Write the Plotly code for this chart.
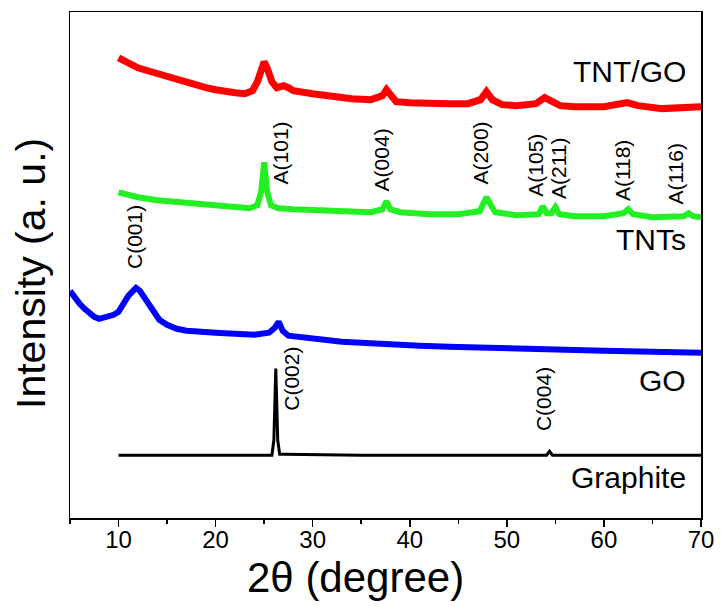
import plotly.graph_objects as go

# ---------------- data (intensity in arbitrary units) -------------
tntgo_x = [10.0, 11, 12, 13, 14, 15, 16, 17, 18, 19, 20, 21, 22, 23, 23.8, 24.3, 24.7, 25.0, 25.3,
           25.8, 26.3, 27.0, 27.5, 28, 30, 32, 34, 36, 37.2, 37.6, 38.0, 38.6, 40, 42, 44, 46, 47.3,
           47.9, 48.5, 49.5, 51, 53, 53.9, 54.5, 55.5, 57, 60, 62.4, 63.5, 66, 68, 70]
tntgo_y = [462, 456, 452, 449, 446, 443, 440, 437, 434, 432, 430, 428, 427, 426, 429, 438, 451, 458, 452,
           438, 432, 434, 432, 429, 426, 423, 421, 420, 424, 430, 424, 418, 417, 416, 416, 416, 420,
           428, 420, 415, 414, 416, 422, 419, 414, 413, 413, 417, 414, 411, 412, 413]

tnts_x = [10, 11, 12, 14, 16, 18, 20, 22, 23.5, 24.3, 24.7, 25.0, 25.3, 25.7, 26.5, 28, 30, 32, 34, 36,
          37.2, 37.6, 38.0, 39, 42, 45, 47.2, 47.6, 47.9, 48.3, 48.8, 51, 53.3, 53.7, 54.1, 54.6, 55.0,
          55.4, 57, 60, 62.0, 62.5, 63, 65, 68.2, 68.7, 69.2, 70]
tnts_y = [327, 324, 322, 319, 317, 315, 313, 311, 311, 314, 328, 357, 328, 314, 311, 310, 309, 308, 308, 307,
          310, 318, 310, 307, 305, 305, 308, 316, 322, 315, 307, 304, 305, 313, 306, 306, 312,
          305, 303, 303, 306, 310, 305, 302, 303, 306, 303, 302]

go_x = [5.0, 5.5, 6, 6.5, 7, 7.5, 8, 8.5, 9, 9.5, 10, 10.5, 11, 11.5, 11.8, 12.2, 12.7, 13.2, 13.7, 14.2,
        15, 16, 17, 18, 20, 22, 24, 25.5, 26.1, 26.5, 26.9, 27.5, 29, 31, 33, 35, 38, 41, 44, 47, 50,
        55, 60, 65, 70]
go_y = [228, 221, 215, 210, 206, 202, 200, 201, 202, 204, 207, 215, 223, 228, 231, 228, 221, 213, 205, 199,
        194, 190, 188, 187, 186, 185, 184, 186, 191, 197, 188, 183, 181, 179, 177, 176, 174, 173, 172, 171, 170,
        169, 168, 167, 166]

graphite_x = [10, 20, 25.8, 26.0, 26.2, 26.4, 26.6, 27, 35, 54.1, 54.4, 54.7, 70]
graphite_y = [63, 63, 63, 78, 150, 78, 64, 64, 63, 63, 67, 63, 63]

# peak labels: text, 2theta position of label, label base height
peak_labels = ["C(001)", "A(101)", "A(004)", "A(200)", "A(105)", "A(211)", "A(118)", "A(116)", "C(002)", "C(004)"]
peak_label_x = [11.7, 26.7, 37.1, 47.3, 53.0, 55.3, 61.9, 67.4, 27.8, 53.8]
peak_label_y = [248, 333, 326, 333, 321, 318, 316, 313, 106, 85]

series_names = ["TNT/GO", "TNTs", "GO", "Graphite"]
series_label_y = [448, 280, 138, 41]

x_ticks = [10, 20, 30, 40, 50, 60, 70]

FONT = "Liberation Sans, Arial, sans-serif"

fig = go.Figure()
fig.add_trace(go.Scatter(x=tntgo_x, y=tntgo_y, mode="lines", line=dict(color="#FF0000", width=7), name="TNT/GO"))
fig.add_trace(go.Scatter(x=tnts_x, y=tnts_y, mode="lines", line=dict(color="#22F022", width=6), name="TNTs"))
fig.add_trace(go.Scatter(x=go_x, y=go_y, mode="lines", line=dict(color="#0000FF", width=6), name="GO"))
fig.add_trace(go.Scatter(x=graphite_x, y=graphite_y, mode="lines", line=dict(color="#000000", width=3), name="Graphite"))

annotations = []
for t, x, y in zip(peak_labels, peak_label_x, peak_label_y):
    annotations.append(dict(x=x, y=y, xref="x", yref="y", text=t, showarrow=False, textangle=-90,
                            xanchor="center", yanchor="bottom", font=dict(family=FONT, size=21, color="black")))
for t, y in zip(series_names, series_label_y):
    annotations.append(dict(x=68.7, y=y, xref="x", yref="y", text=t, showarrow=False,
                            xanchor="right", yanchor="middle", font=dict(family=FONT, size=30, color="black")))
annotations.append(dict(x=0.452, y=-0.118, xref="paper", yref="paper", text="2θ (degree)", showarrow=False,
                        xanchor="center", yanchor="middle", font=dict(family=FONT, size=42, color="black")))
annotations.append(dict(x=-0.062, y=0.484, xref="paper", yref="paper", text="Intensity (a. u.)", showarrow=False,
                        textangle=-90, xanchor="center", yanchor="middle", font=dict(family=FONT, size=41, color="black")))

fig.update_layout(
    width=724, height=606, autosize=False,
    margin=dict(l=70, r=17, t=10, b=88),
    paper_bgcolor="white", plot_bgcolor="white",
    showlegend=False,
    annotations=annotations,
    xaxis=dict(range=[5, 70], tickvals=x_ticks, ticks="outside", ticklen=7, tickwidth=1.5, tickcolor="black",
               minor=dict(dtick=5, tick0=5, ticks="outside", ticklen=4, tickwidth=1.5, tickcolor="black"),
               showline=True, linecolor="black", linewidth=1.5, mirror=True, showgrid=False, zeroline=False,
               ticklabelstandoff=-7,
               tickfont=dict(family=FONT, size=24, color="black")),
    yaxis=dict(range=[0, 508], showticklabels=False, ticks="", showline=True, linecolor="black", linewidth=1.5,
               mirror=True, showgrid=False, zeroline=False),
)

fig.write_html("out.html",
               config={"responsive": False, "staticPlot": True, "displayModeBar": False},
               post_script="document.body.style.margin='0';document.body.style.overflow='hidden';")
